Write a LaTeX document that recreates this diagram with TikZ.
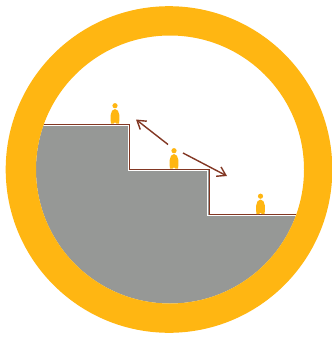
\documentclass[tikz,border=0pt]{standalone}
\definecolor{RingOrange}{RGB}{255, 182, 18}
\definecolor{StairGray}{RGB}{150, 152, 150}
\definecolor{StairBrown}{RGB}{130, 55, 35}
\usetikzlibrary{arrows.meta}
\tikzset{
  ring/.style={fill=RingOrange, even odd rule},
  stair/.style={fill=StairGray},
  edgeline/.style={draw=#1, line width=0.8pt},
  arr/.style={-{Straight Barb[length=7pt, width=9pt]}, line width=1.2pt, color=StairBrown},
  person/.pic={
    \fill[RingOrange] (0,-17.8) circle (2.6);
    \fill[RingOrange] (-4,0) .. controls (-4.8,-4) and (-5.2,-14.5) .. (0,-14.5)
      .. controls (5.2,-14.5) and (4.8,-4) .. (4,0) -- (1.3,0) -- (0.7,-0.8) -- (-0.7,-0.8) -- (-1.3,0) -- cycle;
  },
}
\begin{document}
\begin{tikzpicture}[x=0.03cm, y=-0.03cm]
  \useasboundingbox (0,0) rectangle (331,337);
  % stairs inside the ring
  \begin{scope}
    \clip (170,169.5) circle (134);
    \fill[stair] (30,124) -- (129.5,124) -- (129.5,169.5) -- (209,169.5)
      -- (209,214.5) -- (310,214.5) -- (310,310) -- (30,310) -- cycle;
    \draw[edgeline=white] (30,125.3) -- (128.2,125.3) -- (128.2,170.8) -- (207.7,170.8)
      -- (207.7,215.8) -- (310,215.8);
    \draw[edgeline=StairBrown] (30,124) -- (129.5,124) -- (129.5,169.5) -- (209,169.5)
      -- (209,214.5) -- (310,214.5);
  \end{scope}
  \fill[ring] (169,169.5) circle (163.3) (170,169.5) circle (134);
  \pic at (115,123.5) {person};
  \pic at (174,168.5) {person};
  \pic at (260.5,214) {person};
  \coordinate (mida) at (168,144.5);
  \coordinate (midb) at (183,153);
  \coordinate (upper) at (136,119.5);
  \coordinate (lower) at (227,176);
  \draw[arr] (mida) -- (upper);
  \draw[arr] (midb) -- (lower);
\end{tikzpicture}
\end{document}
